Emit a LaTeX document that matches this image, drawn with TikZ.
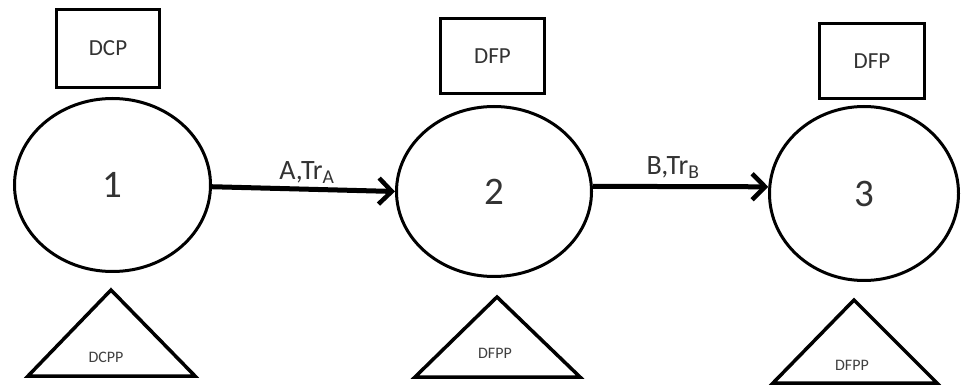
\documentclass[tikz,border=0pt]{standalone}
\usepackage{fontspec}
\setmainfont{Carlito}
\usetikzlibrary{shapes.geometric,arrows.meta}
\begin{document}
\begin{tikzpicture}[x=1pt,y=-1pt,
  state/.style={draw,ellipse,line width=3pt,inner sep=0pt,text=black!80,font=\fontsize{39}{42}\selectfont},
  pbox/.style={draw,rectangle,line width=3.5pt,inner sep=0pt,text=black!80,font=\fontsize{23}{26}\selectfont},
  tri/.style={draw,line width=3.5pt,line join=miter},
  trilabel/.style={inner sep=0pt,text=black!75,font=\fontsize{16}{18}\selectfont},
  flow/.style={line width=5pt,-{Straight Barb[length=13pt,width=26pt,line width=4.5pt]}},
  flowlabel/.style={inner sep=0pt,text=black!80,font=\fontsize{28}{30}\selectfont}
]
\useasboundingbox (0,0) rectangle (961,387);

% boxes
\node[pbox,minimum width=103pt,minimum height=78pt] (b1) at (108,48.5) {DCP};
\node[pbox,minimum width=104pt,minimum height=75pt] (b2) at (492.5,56) {DFP};
\node[pbox,minimum width=105pt,minimum height=75pt] (b3) at (872,61) {DFP};

% states
\node[state,minimum width=196pt,minimum height=173pt] (e1) at (112.5,185) {1};
\node[state,minimum width=195pt,minimum height=170pt] (e2) at (494,191.5) {2};
\node[state,minimum width=189pt,minimum height=174pt] (e3) at (864,193.5) {3};

% triangles
\coordinate (t1a) at (111,290);
\coordinate (t1b) at (195,376);
\coordinate (t1c) at (28,376);
\draw[tri] (t1a) -- (t1b) -- (t1c) -- cycle;
\node[trilabel] (p1) at (106,357) {DCPP};

\coordinate (t2a) at (497,297);
\coordinate (t2b) at (580,377);
\coordinate (t2c) at (415,377);
\draw[tri] (t2a) -- (t2b) -- (t2c) -- cycle;
\node[trilabel] (p2) at (495,353) {DFPP};

\coordinate (t3a) at (854,300);
\coordinate (t3b) at (937,383);
\coordinate (t3c) at (773,383);
\draw[tri] (t3a) -- (t3b) -- (t3c) -- cycle;
\node[trilabel] (p3) at (852,365) {DFPP};

% flows
\draw[flow] (e1.-1) -- (e2.180);
\draw[flow] (e2.3) -- (e3.176);
\node[flowlabel] (la) at (307,173) {A,Tr\textsubscript{A}};
\node[flowlabel] (lb) at (673,168) {B,Tr\textsubscript{B}};
\end{tikzpicture}
\end{document}
